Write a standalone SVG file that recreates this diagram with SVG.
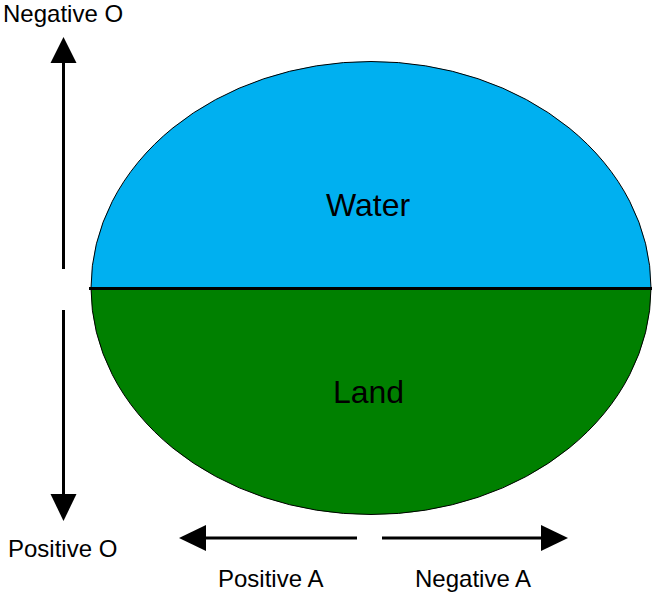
<svg xmlns="http://www.w3.org/2000/svg" width="659" height="595" viewBox="0 0 659 595">
<style>
text{font-family:"Liberation Sans",Arial,sans-serif;fill:#000}
.lbl{font-size:24px}
.big{font-size:32px}
.ax{stroke:#000;stroke-width:3;fill:none}
.head{fill:#000}
</style>
<rect width="659" height="595" fill="#fff"/>
<g id="globe">
<path d="M91,288 A280,226.5 0 0 1 651,288 Z" fill="#00B0F0"/>
<path d="M91,288 A280,226.5 0 0 0 651,288 Z" fill="#008000"/>
<ellipse cx="371" cy="288" rx="280" ry="226.5" fill="none" stroke="#000" stroke-width="1"/>
<line x1="89" y1="288.5" x2="652" y2="288.5" stroke="#000" stroke-width="3"/>
<text class="big" x="368" y="216" text-anchor="middle">Water</text>
<text class="big" x="368.5" y="403" text-anchor="middle">Land</text>
</g>
<g id="connectors">
<line class="ax" x1="63.5" y1="269" x2="63.5" y2="60"/>
<polygon class="head" points="63.5,37 50.5,63 76.5,63"/>
<line class="ax" x1="63.5" y1="310" x2="63.5" y2="496"/>
<polygon class="head" points="63.5,521 50.5,494 76.5,494"/>
<line class="ax" x1="357" y1="538" x2="204" y2="538"/>
<polygon class="head" points="179,538 206,525 206,551"/>
<line class="ax" x1="382" y1="538" x2="544" y2="538"/>
<polygon class="head" points="568,538 541,525 541,551"/>
</g>
<g id="labels">
<text class="lbl" x="3" y="22">Negative O</text>
<text class="lbl" x="8" y="557">Positive O</text>
<text class="lbl" x="218" y="587">Positive A</text>
<text class="lbl" x="415" y="587">Negative A</text>
</g>
</svg>
